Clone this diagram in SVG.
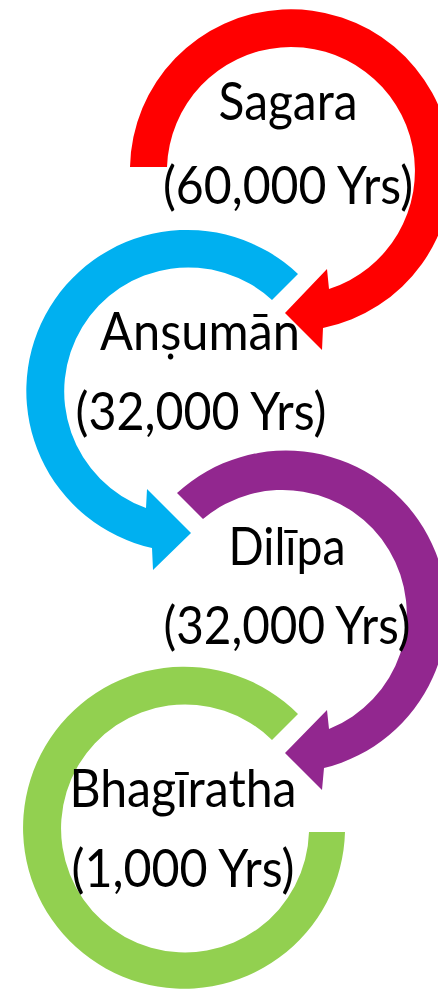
<svg xmlns="http://www.w3.org/2000/svg" width="438" height="989" viewBox="0 0 438 989">
<style>
.lbl{font-family:Lato,"Liberation Sans",sans-serif;font-size:52px;fill:#000;text-anchor:middle}
</style>
<rect width="438" height="989" fill="#fff"/>
<g id="connectors"></g>
<g id="sagara">
<path fill="#FF0000" d="M130,167 A161,161 0 1 1 323,328 L322,350 L285,313 L327,269 L329,289 A124,124 0 1 0 167,167 Z"/>
<text class="lbl" x="288" y="120" textLength="139" lengthAdjust="spacingAndGlyphs">Sagara</text>
<text class="lbl" x="288" y="204" textLength="250" lengthAdjust="spacingAndGlyphs">(60,000 Yrs)</text>
</g>
<g id="anshuman">
<path fill="#00B0F0" d="M298,274 A161,161 0 1 0 152,548 L153,570 L191,533 L147,489 L146,508 A124,124 0 1 1 272,300 Z"/>
<text class="lbl" x="200" y="350" textLength="200" lengthAdjust="spacingAndGlyphs">Anṣumān</text>
<text class="lbl" x="201" y="430" textLength="251" lengthAdjust="spacingAndGlyphs">(32,000 Yrs)</text>
</g>
<g id="dilipa">
<path fill="#92278F" d="M177,493 A161,161 0 1 1 324,768 L322,790 L285,753 L327,710 L329,729 A124,124 0 1 0 203,519 Z"/>
<text class="lbl" x="287" y="565" textLength="117" lengthAdjust="spacingAndGlyphs">Dilīpa</text>
<text class="lbl" x="287" y="644" textLength="247" lengthAdjust="spacingAndGlyphs">(32,000 Yrs)</text>
</g>
<g id="bhagiratha">
<path fill="#92D050" d="M298,714 A161,161 0 1 0 345,832 L309,832 A124,124 0 1 1 272,740 Z"/>
<text class="lbl" x="183" y="807" textLength="227" lengthAdjust="spacingAndGlyphs">Bhagīratha</text>
<text class="lbl" x="183" y="887" textLength="223" lengthAdjust="spacingAndGlyphs">(1,000 Yrs)</text>
</g>
</svg>
